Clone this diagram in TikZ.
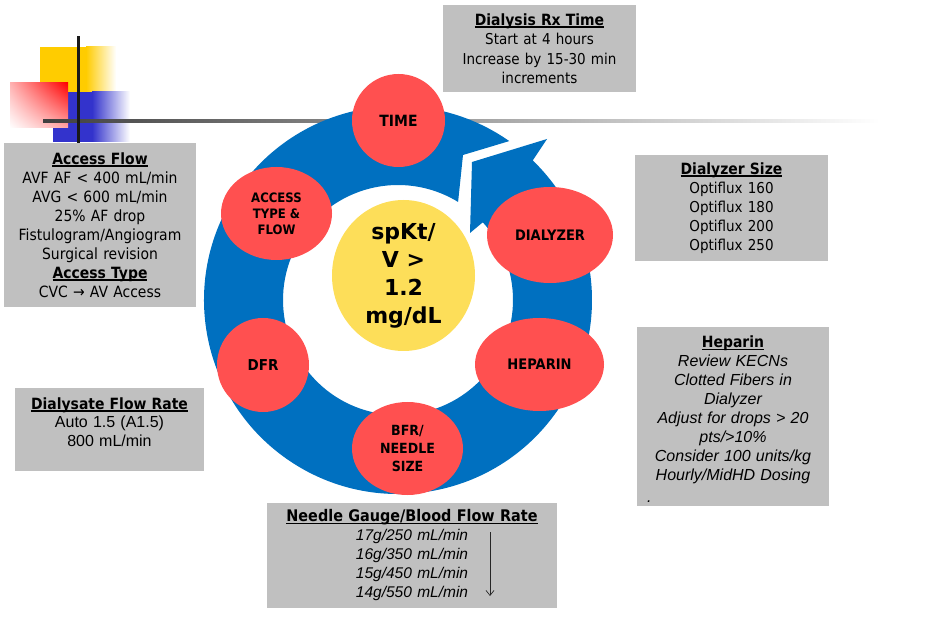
\documentclass[tikz,border=0pt]{standalone}
\usepackage{amsmath}
\usepackage{fontspec}
\setmainfont{DejaVu Sans}[FakeStretch=0.9]
\newfontfamily\widefont{DejaVu Sans}
\newfontfamily\arialfont{Liberation Sans}
\usepackage{tikz}
\usetikzlibrary{shapes.geometric,arrows.meta,shadings}

\definecolor{ringblue}{RGB}{0,112,192}
\definecolor{blobred}{RGB}{255,80,80}
\definecolor{goalyellow}{RGB}{253,222,89}
\definecolor{boxgray}{RGB}{192,192,192}
\definecolor{cornyellow}{RGB}{255,204,0}
\definecolor{cornblue}{RGB}{51,51,204}

% bold title with a thick underline
\newcommand\boxtitle[1]{\leavevmode\setbox0\hbox{\textbf{#1}}\rlap{\rule[-2.5pt]{\wd0}{1.5pt}}\box0}
\newcommand\hepfont{\arialfont\itshape\fontsize{16}{19}\selectfont}

\tikzset{
    infobox/.style={fill=boxgray, inner sep=0pt, align=center, font=\fontsize{15.5}{19}\selectfont},
    blob/.style={ellipse, fill=blobred, inner sep=0pt, align=center, font=\bfseries\fontsize{14.5}{18}\selectfont},
    flowarrow/.style={-{Straight Barb[length=5pt,width=8pt]}, line width=0.7pt, black!85},
}

\begin{document}
\begin{tikzpicture}[x=1pt, y=-1pt]
    \useasboundingbox (0,0) rectangle (943,644);
    % corner squares and rules
    \fill[cornyellow] (40,47) rectangle (86,92);
    \shade[left color=cornyellow, right color=white] (86,47) rectangle (116,92);
    \fill[cornblue] (53,92) rectangle (92,142);
    \shade[left color=cornblue, right color=white] (92,92) rectangle (130,142);
    \shade[upper left=red!30, upper right=red, lower left=white, lower right=red!35] (10,83) rectangle (68,128);
    \shade[left color=black!75, right color=white] (43,119.7) rectangle (880,122.3);
    \fill[black!90] (76.5,36) rectangle (79.5,143);

    % the cycle arrow
    \begin{scope}[shift={(398,300)}]
        \fill[ringblue] (-55:194) arc[start angle=-55, end angle=-406, radius=194]
            -- (149,-161) -- (74,-138) -- (72,-67) -- (-42.5:115)
            arc[start angle=-402.5, end angle=-58.5, radius=115] -- (65,-145) -- cycle;
    \end{scope}

    \node[blob, minimum width=93pt, minimum height=93pt, font=\bfseries\fontsize{15.5}{18}\selectfont] (time) at (398.5,120.5) {TIME};
    \node[blob, minimum width=111pt, minimum height=93pt, font=\bfseries\fontsize{13}{16}\selectfont] (access) at (276.5,213.5) {ACCESS\\TYPE \&\\FLOW};
    \node[blob, minimum width=126pt, minimum height=96pt] (dialyzer) at (550,235) {DIALYZER};
    \node[blob, minimum width=92pt, minimum height=94pt, font=\bfseries\fontsize{15}{18}\selectfont] (dfr) at (263,365) {DFR};
    \node[blob, minimum width=129pt, minimum height=93pt] (heparin) at (539.5,364.5) {HEPARIN};
    \node[blob, minimum width=111pt, minimum height=93pt, font=\bfseries\fontsize{14}{18}\selectfont] (bfr) at (407.5,448.5) {BFR/\\NEEDLE\\SIZE};
    \node[ellipse, fill=goalyellow, inner sep=0pt, minimum width=143pt, minimum height=151pt, align=center,
          font=\widefont\bfseries\fontsize{22}{28}\selectfont] (goal) at (403.5,275.5) {spKt/\\V >\\1.2\\mg/dL};

    % info boxes
    \node[infobox, minimum width=193pt, minimum height=87pt, text width=187pt] (rxinfo) at (539.5,48.5)
        {\boxtitle{Dialysis Rx Time}\\\fontsize{15}{19.3}\selectfont Start at 4 hours\\Increase by 15-30 min\\increments};
    \node[infobox, minimum width=192pt, minimum height=164pt, text width=188pt] (accessinfo) at (100,225)
        {\boxtitle{Access Flow}\\AVF AF < 400 mL/min\\AVG < 600 mL/min\\25\% AF drop\\Fistulogram/Angiogram\\Surgical revision\\\boxtitle{Access Type}\\CVC → AV Access};
    \node[infobox, minimum width=193pt, minimum height=106pt, text width=185pt] (dialyzerinfo) at (731.5,208)
        {\boxtitle{Dialyzer Size}\\\fontsize{15}{19}\selectfont Optiflux 160\\Optiflux 180\\Optiflux 200\\Optiflux 250};
    \node[infobox, minimum width=192pt, minimum height=179pt, text width=184pt] (heparininfo) at (733,416.5)
        {\rule{0pt}{18pt}\boxtitle{Heparin}\\\hepfont Review KECNs\\Clotted Fibers in\\Dialyzer\\Adjust for drops > 20\\pts/>10\%\\Consider 100 units/kg\\Hourly/MidHD Dosing\\[3pt]\makebox[\linewidth][l]{\hspace{6pt}.}};
    \node[infobox, minimum width=189pt, minimum height=83pt, text width=185pt, font=\fontsize{15.5}{18.5}\selectfont] (dfrinfo) at (109.5,429.5)
        {\boxtitle{Dialysate Flow Rate}\\\arialfont\fontsize{16}{18.5}\selectfont Auto 1.5 (A1.5)\\800 mL/min\rule[-15pt]{0pt}{15pt}};
    \node[infobox, minimum width=290pt, minimum height=105pt, text width=284pt, font=\fontsize{16}{19}\selectfont] (needleinfo) at (412,555.5)
        {\boxtitle{Needle Gauge/Blood Flow Rate}\\\arialfont\itshape\fontsize{15.5}{19}\selectfont 17g/250 mL/min\\16g/350 mL/min\\15g/450 mL/min\\14g/550 mL/min};
    \coordinate (flowtop) at (490,532);
    \coordinate (flowend) at (490,596);
    \draw[flowarrow] (flowtop) -- (flowend);
\end{tikzpicture}
\end{document}
